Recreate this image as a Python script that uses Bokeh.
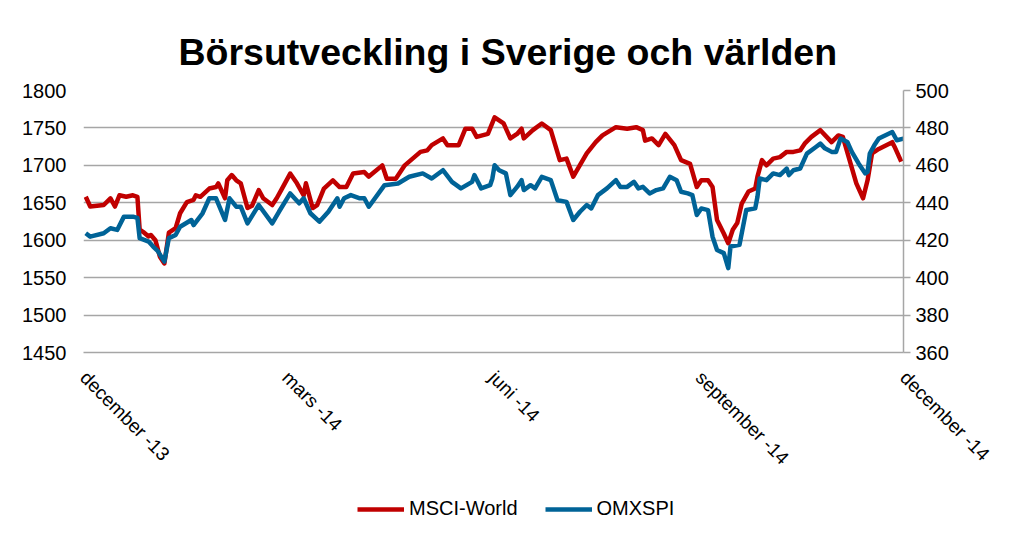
import math
import pandas as pd
from bokeh.plotting import figure
from bokeh.layouts import column
from bokeh.models import (ColumnDataSource, Range1d, LinearAxis, FixedTicker,
                          Legend, LegendItem)
from bokeh.embed import file_html
from bokeh.resources import INLINE

TITLE = "Börsutveckling i Sverige och världen"
series_names = ["MSCI-World", "OMXSPI"]

msci_dates = [
    "2013-12-02", "2013-12-04", "2013-12-10", "2013-12-13", "2013-12-15", "2013-12-17",
    "2013-12-20", "2013-12-23", "2013-12-25", "2013-12-26", "2013-12-28", "2013-12-30",
    "2013-12-31", "2014-01-02", "2014-01-04", "2014-01-06", "2014-01-08", "2014-01-11",
    "2014-01-13", "2014-01-16", "2014-01-19", "2014-01-20", "2014-01-22", "2014-01-26",
    "2014-01-29", "2014-01-30", "2014-02-02", "2014-02-03", "2014-02-05", "2014-02-07",
    "2014-02-09", "2014-02-12", "2014-02-14", "2014-02-17", "2014-02-19", "2014-02-23",
    "2014-02-25", "2014-02-27", "2014-03-03", "2014-03-06", "2014-03-09", "2014-03-10",
    "2014-03-13", "2014-03-15", "2014-03-18", "2014-03-22", "2014-03-25", "2014-03-28",
    "2014-03-31", "2014-04-05", "2014-04-07", "2014-04-13", "2014-04-15", "2014-04-19",
    "2014-04-23", "2014-04-30", "2014-05-03", "2014-05-05", "2014-05-10", "2014-05-12",
    "2014-05-17", "2014-05-20", "2014-05-23", "2014-05-25", "2014-05-30", "2014-06-02",
    "2014-06-06", "2014-06-09", "2014-06-12", "2014-06-14", "2014-06-15", "2014-06-19",
    "2014-06-23", "2014-06-27", "2014-07-01", "2014-07-04", "2014-07-07", "2014-07-13",
    "2014-07-17", "2014-07-20", "2014-07-26", "2014-07-31", "2014-08-04", "2014-08-07",
    "2014-08-08", "2014-08-11", "2014-08-14", "2014-08-17", "2014-08-21", "2014-08-24",
    "2014-08-28", "2014-08-31", "2014-09-02", "2014-09-05", "2014-09-07", "2014-09-09",
    "2014-09-12", "2014-09-14", "2014-09-16", "2014-09-18", "2014-09-20", "2014-09-23",
    "2014-09-26", "2014-09-27", "2014-09-29", "2014-10-01", "2014-10-04", "2014-10-07",
    "2014-10-10", "2014-10-13", "2014-10-16", "2014-10-18", "2014-10-21", "2014-10-25",
    "2014-10-30", "2014-11-02", "2014-11-04", "2014-11-07", "2014-11-10", "2014-11-13",
    "2014-11-15", "2014-11-17", "2014-11-20", "2014-11-26", "2014-11-27", "2014-11-30",
]
msci_values = [
    1658, 1645, 1647, 1656, 1645, 1660,
    1658, 1660, 1658, 1614, 1610, 1605,
    1607, 1600, 1578, 1569, 1610, 1616,
    1636, 1651, 1654, 1660, 1658, 1669,
    1671, 1676, 1656, 1680, 1687, 1680,
    1676, 1643, 1646, 1667, 1656, 1647,
    1656, 1667, 1689, 1676, 1660, 1676,
    1643, 1647, 1669, 1680, 1671, 1671,
    1689, 1691, 1685, 1700, 1682, 1682,
    1700, 1718, 1720, 1727, 1736, 1727,
    1727, 1749, 1749, 1738, 1742, 1764,
    1756, 1736, 1742, 1749, 1736, 1747,
    1756, 1747, 1707, 1709, 1685, 1716,
    1731, 1740, 1751, 1749, 1751, 1747,
    1733, 1736, 1727, 1742, 1727, 1707,
    1702, 1671, 1680, 1680, 1671, 1627,
    1609, 1596, 1614, 1623, 1649, 1665,
    1669, 1685, 1707, 1700, 1709, 1711,
    1718, 1718, 1720, 1729, 1738, 1747,
    1731, 1740, 1738, 1707, 1676, 1656,
    1680, 1716, 1722, 1731, 1725, 1705,
]

omx_dates = [
    "2013-12-02", "2013-12-04", "2013-12-10", "2013-12-13", "2013-12-16", "2013-12-19",
    "2013-12-23", "2013-12-25", "2013-12-26", "2013-12-30", "2014-01-01", "2014-01-03",
    "2014-01-06", "2014-01-08", "2014-01-11", "2014-01-13", "2014-01-18", "2014-01-19",
    "2014-01-23", "2014-01-26", "2014-01-29", "2014-02-02", "2014-02-04", "2014-02-07",
    "2014-02-09", "2014-02-12", "2014-02-17", "2014-02-23", "2014-02-26", "2014-03-03",
    "2014-03-07", "2014-03-09", "2014-03-12", "2014-03-16", "2014-03-20", "2014-03-24",
    "2014-03-25", "2014-03-27", "2014-03-30", "2014-04-03", "2014-04-05", "2014-04-07",
    "2014-04-14", "2014-04-20", "2014-04-25", "2014-05-01", "2014-05-05", "2014-05-10",
    "2014-05-14", "2014-05-18", "2014-05-23", "2014-05-24", "2014-05-27", "2014-05-31",
    "2014-06-01", "2014-06-02", "2014-06-04", "2014-06-07", "2014-06-09", "2014-06-12",
    "2014-06-14", "2014-06-15", "2014-06-18", "2014-06-20", "2014-06-23", "2014-06-27",
    "2014-06-30", "2014-07-04", "2014-07-07", "2014-07-10", "2014-07-13", "2014-07-15",
    "2014-07-18", "2014-07-22", "2014-07-26", "2014-07-28", "2014-07-31", "2014-08-03",
    "2014-08-05", "2014-08-07", "2014-08-10", "2014-08-13", "2014-08-16", "2014-08-19",
    "2014-08-22", "2014-08-24", "2014-08-27", "2014-08-29", "2014-08-31", "2014-09-02",
    "2014-09-05", "2014-09-07", "2014-09-09", "2014-09-12", "2014-09-14", "2014-09-15",
    "2014-09-19", "2014-09-22", "2014-09-26", "2014-09-27", "2014-09-28", "2014-10-01",
    "2014-10-04", "2014-10-07", "2014-10-10", "2014-10-11", "2014-10-13", "2014-10-16",
    "2014-10-19", "2014-10-23", "2014-10-25", "2014-10-27", "2014-10-30", "2014-11-01",
    "2014-11-03", "2014-11-06", "2014-11-08", "2014-11-11", "2014-11-14", "2014-11-15",
    "2014-11-16", "2014-11-18", "2014-11-20", "2014-11-26", "2014-11-28", "2014-12-01",
]
omx_values = [
    423.7, 421.9, 423.7, 426.4, 425.5, 432.6,
    432.6, 431.9, 421.1, 419.3, 416.6, 414.3,
    408.6, 421.1, 422.8, 427.2, 430.8, 428.1,
    434.4, 442.4, 442.4, 430.8, 442.4, 437.9,
    437.9, 429.0, 438.8, 429.0, 435.2, 445.0,
    439.7, 442.4, 434.4, 429.9, 435.2, 442.4,
    437.9, 442.4, 444.1, 442.4, 442.4, 437.9,
    449.4, 450.3, 453.9, 455.7, 453.0, 457.4,
    451.2, 447.7, 451.2, 454.8, 447.7, 449.4,
    453.0, 460.1, 457.4, 455.7, 444.1, 448.5,
    452.1, 446.8, 449.4, 447.7, 453.9, 452.1,
    441.4, 440.5, 430.8, 435.2, 438.8, 437.0,
    444.1, 447.7, 452.1, 448.5, 448.5, 451.2,
    447.7, 448.5, 445.0, 446.8, 447.7, 453.9,
    452.1, 445.9, 445.0, 444.1, 433.5, 437.0,
    436.1, 421.9, 414.8, 413.1, 405.1, 416.6,
    417.5, 436.1, 437.0, 443.2, 453.0, 452.1,
    455.7, 454.8, 458.3, 454.8, 457.4, 458.3,
    466.3, 469.8, 471.6, 469.1, 467.2, 467.2,
    474.3, 472.5, 467.2, 461.0, 455.7, 456.5,
    466.3, 470.7, 474.3, 477.8, 473.4, 474.3,
]

tick_dates = ["2013-12-01", "2014-03-01", "2014-06-01", "2014-09-01", "2014-12-01"]
tick_labels = ["december -13", "mars -14", "juni -14", "september -14", "december -14"]

left_ticks = [1450, 1500, 1550, 1600, 1650, 1700, 1750, 1800]
right_ticks = [360, 380, 400, 420, 440, 460, 480, 500]

RED = "#C00000"
BLUE = "#006397"
GRID = "#A6A6A6"
FONT = "Liberation Sans"

def ms(d):
    return int(pd.Timestamp(d).value // 10**6)

src_msci = ColumnDataSource(dict(x=pd.to_datetime(msci_dates), y=msci_values))
src_omx = ColumnDataSource(dict(x=pd.to_datetime(omx_dates), y=omx_values))

W = 1009
H1 = 478
H2 = 56
p = figure(width=W, height=H1, x_axis_type="datetime",
           x_range=Range1d(ms(tick_dates[0]), ms(tick_dates[-1])),
           y_range=Range1d(left_ticks[0], left_ticks[-1]),
           output_backend="svg", toolbar_location=None,
           min_border_left=83, min_border_right=106,
           min_border_top=90, min_border_bottom=H1 - 353)
p.extra_y_ranges = {"omx": Range1d(right_ticks[0], right_ticks[-1])}

p.title.text = TITLE
p.title.text_font = FONT
p.title.text_font_size = "37.5px"
p.title.text_font_style = "bold"
p.title.align = "left"
p.title.offset = 95
p.title.text_color = "#000000"
p.title.standoff = 35

p.outline_line_color = None
p.background_fill_color = "white"
p.border_fill_color = "white"

# grid
p.xgrid.grid_line_color = None
p.ygrid.grid_line_color = GRID
p.ygrid.grid_line_width = 1.5
p.ygrid.ticker = FixedTicker(ticks=left_ticks)

# left axis
yl = p.yaxis[0]
yl.ticker = FixedTicker(ticks=left_ticks)
yl.axis_line_color = None
yl.major_tick_line_color = None
yl.minor_tick_line_color = None
yl.major_label_text_font = FONT
yl.major_label_text_font_size = "20px"
yl.major_label_text_color = "#000000"
yl.major_label_standoff = 11

# right axis
yr = LinearAxis(y_range_name="omx", ticker=FixedTicker(ticks=right_ticks))
yr.axis_line_color = GRID
yr.axis_line_width = 1.5
yr.major_tick_line_color = GRID
yr.major_tick_line_width = 1.5
yr.major_tick_in = 0
yr.major_tick_out = 7
yr.minor_tick_line_color = None
yr.major_label_text_font = FONT
yr.major_label_text_font_size = "20px"
yr.major_label_text_color = "#000000"
yr.major_label_standoff = 5
p.add_layout(yr, "right")

# x axis
xa = p.xaxis[0]
xa.ticker = FixedTicker(ticks=[ms(d) for d in tick_dates])
xa.major_label_overrides = {ms(d): lab for d, lab in zip(tick_dates, tick_labels)}
xa.major_label_orientation = -math.pi / 4
xa.axis_line_color = GRID
xa.axis_line_width = 1.5
xa.major_tick_line_color = None
xa.minor_tick_line_color = None
xa.major_label_text_font = FONT
xa.major_label_text_font_size = "19px"
xa.major_label_text_color = "#000000"
xa.major_label_standoff = 16

r1 = p.line("x", "y", source=src_msci, line_color=RED, line_width=4.5,
            line_join="round")
r2 = p.line("x", "y", source=src_omx, line_color=BLUE, line_width=4.5,
            line_join="round", y_range_name="omx")

# legend strip below the chart (key renderers carry no visible data)
p2 = figure(width=W, height=H2, x_range=Range1d(0, 1), y_range=Range1d(0, 1),
            x_axis_location=None, y_axis_location=None,
            output_backend="svg", toolbar_location=None,
            min_border=0, outline_line_color=None)
p2.xgrid.grid_line_color = None
p2.ygrid.grid_line_color = None
nan = float("nan")
k1 = p2.line(x=[nan, nan], y=[nan, nan], line_color=RED, line_width=4.5)
k2 = p2.line(x=[nan, nan], y=[nan, nan], line_color=BLUE, line_width=4.5)

legend = Legend(items=[LegendItem(label=series_names[0], renderers=[k1]),
                       LegendItem(label=series_names[1], renderers=[k2])],
                orientation="horizontal", location=(274, 14))
legend.label_text_font = FONT
legend.label_text_font_size = "20px"
legend.label_text_color = "#000000"
legend.glyph_width = 47
legend.glyph_height = 22
legend.label_standoff = 5
legend.spacing = 27
legend.border_line_color = None
legend.background_fill_alpha = 0
legend.margin = 0
legend.padding = 0
p2.add_layout(legend, "center")

layout = column(p, p2, spacing=0)
open("out.html", "w").write(file_html(layout, INLINE))
